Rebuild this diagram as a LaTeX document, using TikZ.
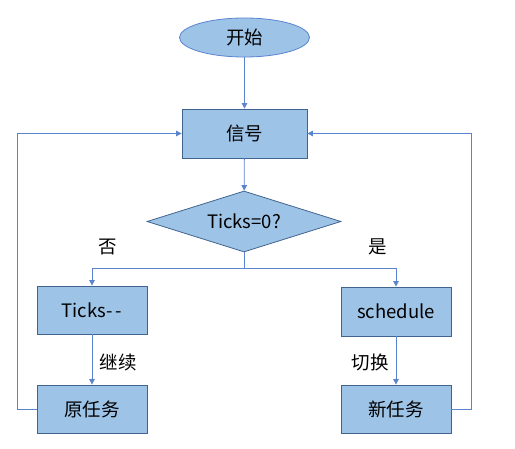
\documentclass[tikz,border=0pt]{standalone}
\usepackage{fontspec}
\setmainfont{Noto Sans CJK SC}
\usetikzlibrary{shapes.geometric,arrows.meta}
\definecolor{boxfill}{HTML}{9DC3E6}
\definecolor{boxline}{HTML}{41648F}
\definecolor{conn}{HTML}{5B84CF}
\tikzset{
  every node/.style={font=\fontsize{18.5}{22}\selectfont, text=black},
  boxnode/.style={draw=boxline, fill=boxfill, line width=0.8pt, rectangle, inner sep=0pt},
  startnode/.style={draw=conn, fill=boxfill, line width=0.8pt, ellipse, inner sep=0pt, minimum width=130pt, minimum height=39pt},
  decnode/.style={draw=boxline, fill=boxfill, line width=0.8pt, diamond, aspect=3.2, inner sep=0pt, minimum width=194pt, minimum height=61pt},
  conline/.style={draw=conn, line width=0.8pt},
  conarrow/.style={conline, -{Triangle[length=5.5pt,width=5.5pt]}},
  lbl/.style={inner sep=0pt}
}
\begin{document}
\begin{tikzpicture}[x=1pt,y=-1pt]
\useasboundingbox (0,0) rectangle (515,449);
\node[startnode] (start) at (244.5,37.5) {开始};
\node[boxnode, minimum width=125pt, minimum height=49pt] (sig) at (244.5,133.5) {信号};
\node[decnode] (dec) at (244,221.5) {Ticks=0?};
\node[boxnode, minimum width=110pt, minimum height=48pt] (ticks) at (92,310) {Ticks-\,-};
\node[boxnode, minimum width=110pt, minimum height=49pt] (sched) at (396,311.5) {schedule};
\node[boxnode, minimum width=110pt, minimum height=48pt] (orig) at (92,409) {原任务};
\node[boxnode, minimum width=110pt, minimum height=48pt] (newt) at (396,409) {新任务};
\coordinate (br) at (244,268);
\coordinate (lf) at (17,409);
\coordinate (rf) at (471,409);
\draw[conarrow] (start) -- (sig);
\draw[conarrow] (sig) -- (dec);
\draw[conline] (dec.south) -- (br);
\draw[conarrow] (br) -| (ticks.north);
\draw[conarrow] (br) -| (sched.north);
\draw[conarrow] (ticks) -- (orig);
\draw[conarrow] (sched) -- (newt);
\draw[conarrow] (orig.west) -- (lf) |- (sig.west);
\draw[conarrow] (newt.east) -- (rf) |- (sig.east);
\node[lbl] (no) at (108,247) {否};
\node[lbl] (yes) at (378,247) {是};
\node[lbl] (cont) at (118,362) {继续};
\node[lbl] (sw) at (370,362) {切换};
\end{tikzpicture}
\end{document}
